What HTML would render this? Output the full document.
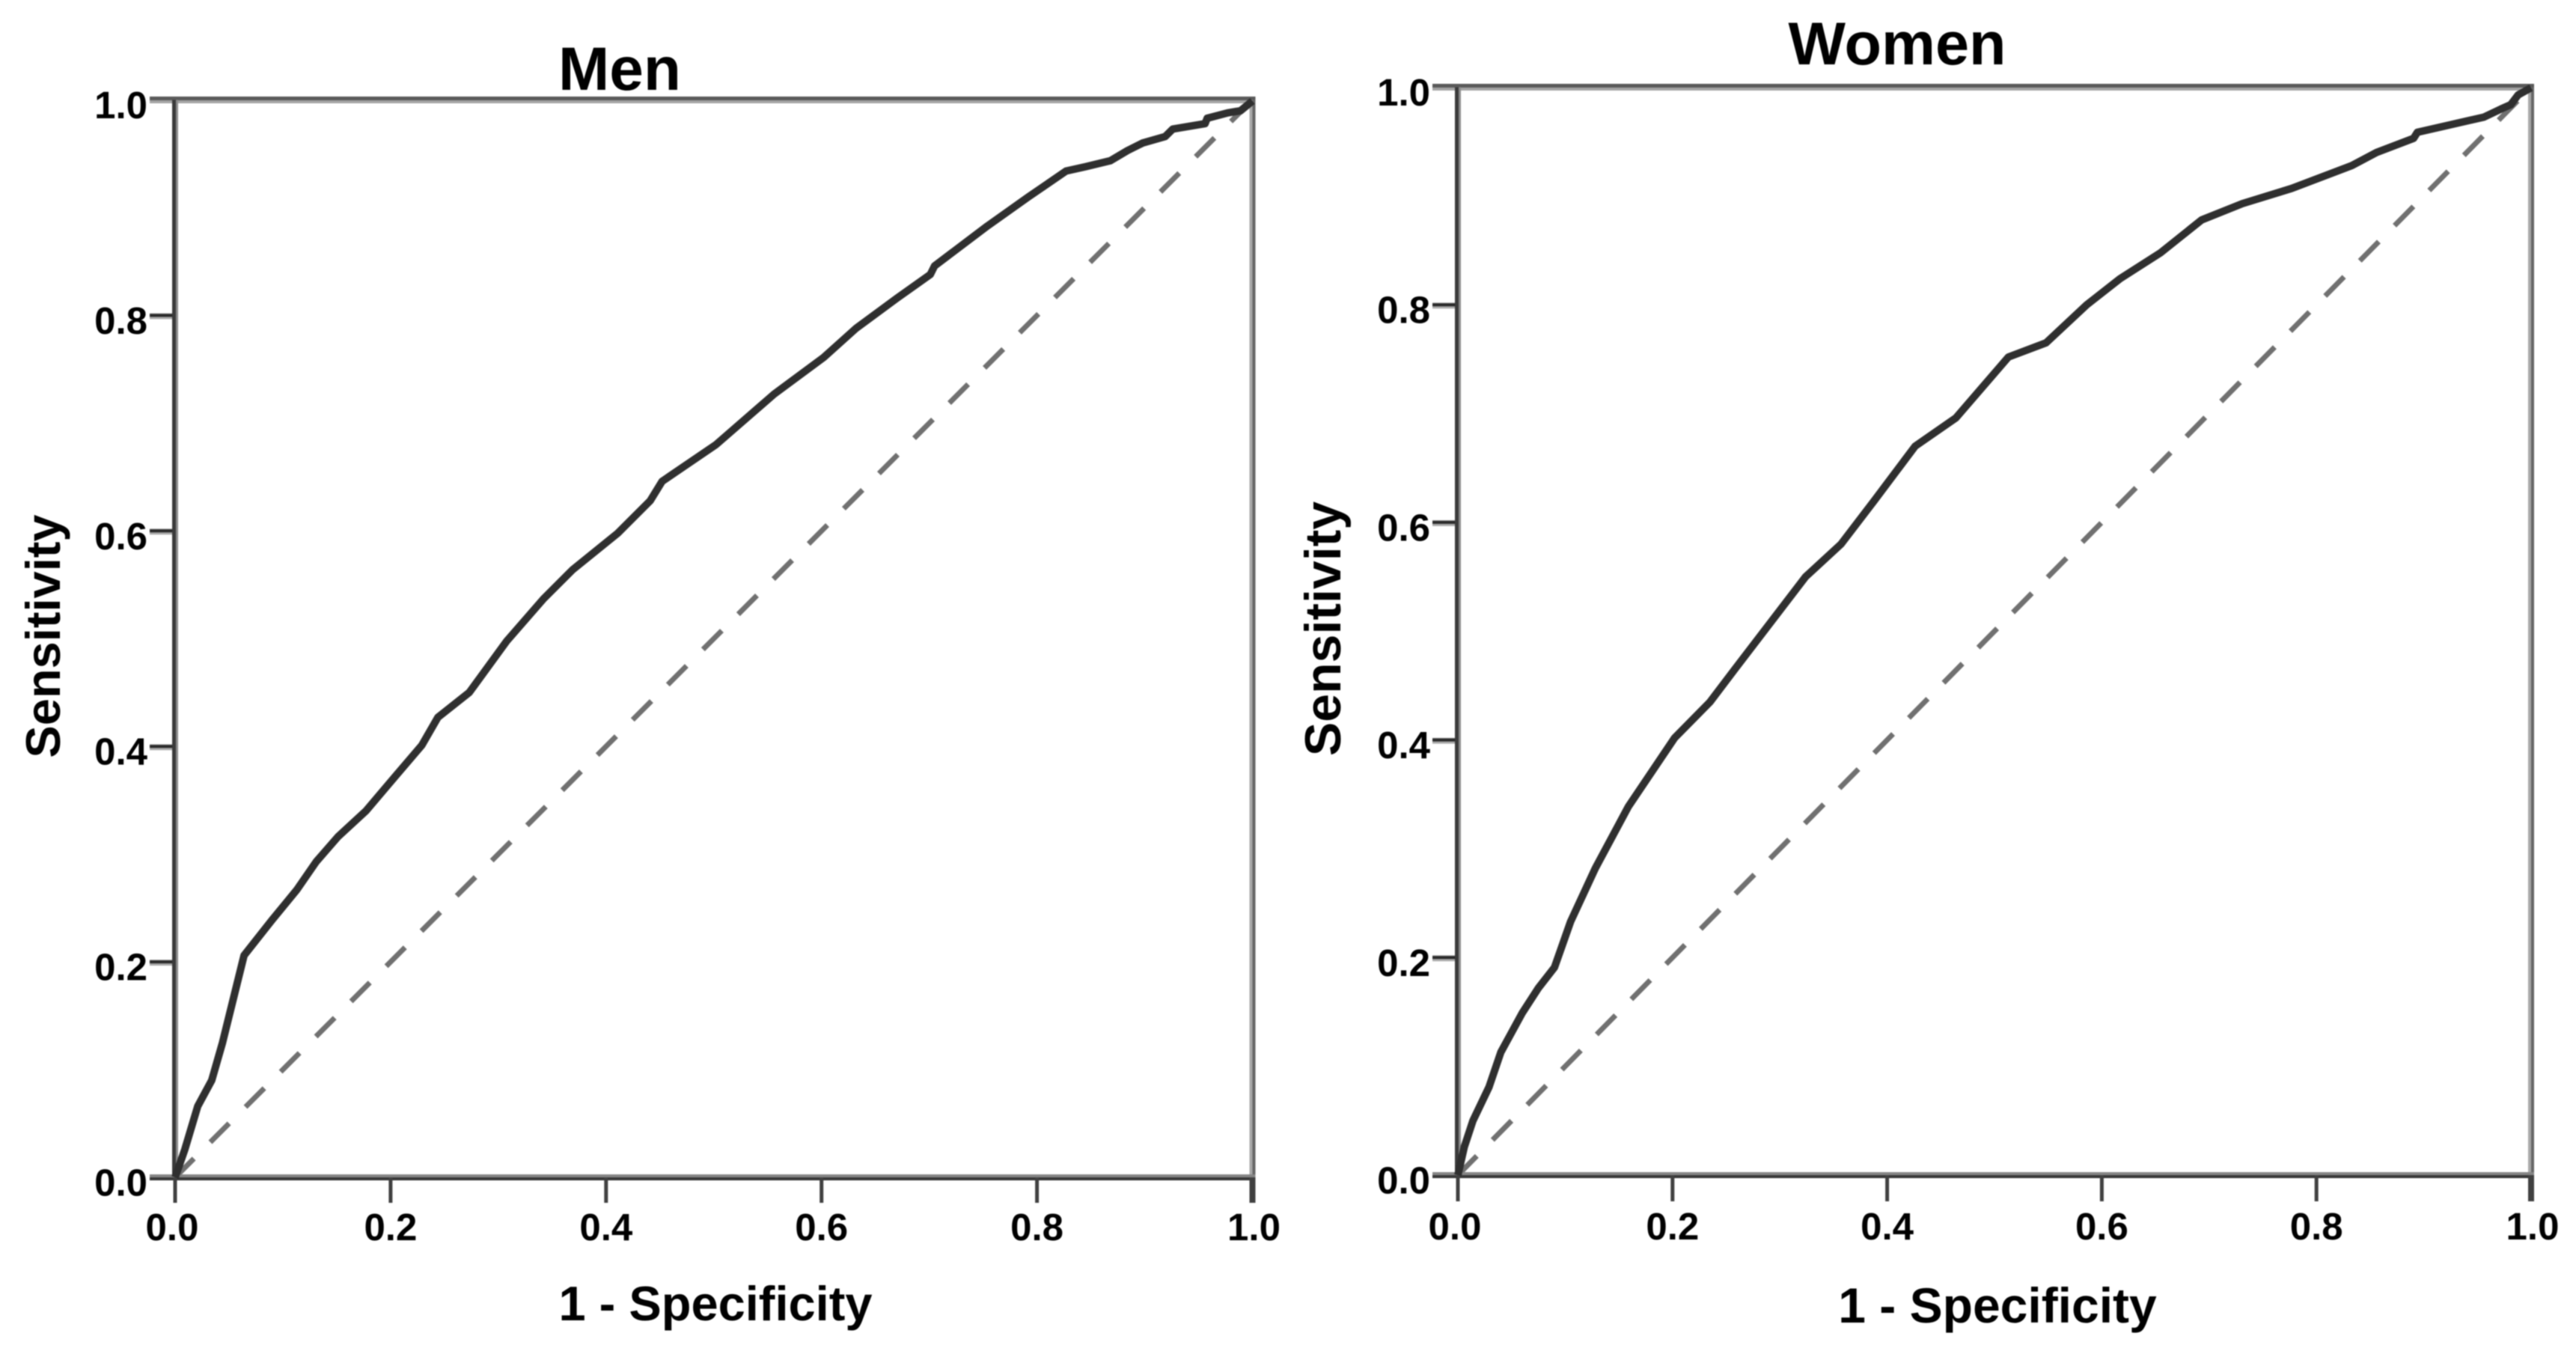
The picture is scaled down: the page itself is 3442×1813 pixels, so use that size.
<!DOCTYPE html>
<html lang="en">
<head>
<meta charset="utf-8">
<title>ROC curves for men and women</title>
<style>
html,body{margin:0;padding:0;background:#fff;}
body{width:3442px;height:1813px;overflow:hidden;}
svg{display:block;filter:blur(0.9px);}
text{font-family:"Liberation Sans",Arial,sans-serif;font-weight:bold;fill:#000;}
</style>
</head>
<body>
<svg id="chart" xmlns="http://www.w3.org/2000/svg" width="3442" height="1813" viewBox="0 0 3442 1813">
  <rect x="0" y="0" width="3442" height="1813" fill="#fff"/>
  <text x="828" y="120" font-size="82" text-anchor="middle">Men</text>
  <text x="2535" y="86" font-size="81" text-anchor="middle">Women</text>
  <text x="956" y="1764" font-size="65" text-anchor="middle">1 - Specificity</text>
  <text x="2669" y="1767" font-size="66" text-anchor="middle">1 - Specificity</text>
  <text transform="translate(80 850) rotate(-90)" font-size="65" text-anchor="middle">Sensitivity</text>
  <text transform="translate(1791 840) rotate(-90)" font-size="68" text-anchor="middle">Sensitivity</text>
  <g id="men-panel"></g>
  <g id="women-panel"></g>
</svg>
<script>
const xTickValues = [0, 0.2, 0.4, 0.6, 0.8, 1];
const yTickValues = [0, 0.2, 0.4, 0.6, 0.8, 1];
const menFpr = [0,.009,.021,.034,.044,.064,.090,.113,.131,.151,.177,.205,.229,.244,.273,.308,.342,.369,.411,.441,.452,.502,.556,.602,.632,.670,.701,.705,.754,.792,.827,.845,.868,.884,.898,.919,.926,.956,.958,.977,.989,1];
const menTpr = [0,.026,.066,.090,.125,.206,.239,.267,.293,.316,.340,.373,.401,.427,.450,.498,.537,.564,.598,.628,.646,.680,.727,.761,.788,.816,.838,.846,.883,.910,.934,.938,.9435,.953,.960,.966,.973,.978,.983,.988,.990,.999];
const womenFpr = [0,.006,.014,.029,.040,.060,.075,.090,.105,.128,.159,.202,.235,.258,.324,.357,.388,.426,.464,.513,.548,.586,.617,.655,.693,.731,.777,.833,.856,.8905,.894,.925,.956,.972,.981,.988,1];
const womenTpr = [0,.026,.050,.081,.113,.149,.172,.191,.233,.282,.339,.402,.435,.465,.550,.580,.620,.670,.696,.752,.765,.800,.824,.848,.878,.893,.907,.928,.940,.953,.9585,.9655,.9725,.980,.984,.993,.9995];
const referenceLine = [0, 1];

const SVG_NS = 'http://www.w3.org/2000/svg';

function makeLine(parent, x1, y1, x2, y2, color, width) {
  const el = document.createElementNS(SVG_NS, 'line');
  el.setAttribute('x1', x1);
  el.setAttribute('y1', y1);
  el.setAttribute('x2', x2);
  el.setAttribute('y2', y2);
  el.setAttribute('stroke', color);
  el.setAttribute('stroke-width', width);
  parent.appendChild(el);
  return el;
}

function makeLabel(parent, x, y, anchor, str) {
  const el = document.createElementNS(SVG_NS, 'text');
  el.setAttribute('x', x);
  el.setAttribute('y', y);
  el.setAttribute('font-size', 51);
  el.setAttribute('text-anchor', anchor);
  el.textContent = str;
  parent.appendChild(el);
  return el;
}

function drawPanel(id, box, fpr, tpr) {
  const g = document.getElementById(id);
  const sx = v => box.left + v * (box.right - box.left);
  const sy = v => box.bottom - v * (box.bottom - box.top);
  const fmt = v => v.toFixed(1);

  // reference diagonal
  const diag = makeLine(g, sx(referenceLine[0]), sy(referenceLine[0]), sx(referenceLine[1]), sy(referenceLine[1]), '#707070', 7);
  diag.setAttribute('stroke-dasharray', box.dash);
  
  

  // frame: dark core with a lighter edge, as in the source raster
  const topLight = makeLine(g, box.left - 34, box.top, box.right + 4, box.top, '#a4a4a4', 9);
  
  
  const topDark = makeLine(g, box.left - 34, box.top - 2, box.right + 4, box.top - 2, '#5a5a5a', 5);
  
  
  const rightLight = makeLine(g, box.right, box.top, box.right, box.bottom, '#a8a8a8', 8);
  
  
  const rightDark = makeLine(g, box.right + 2, box.top, box.right + 2, box.bottom, '#666', 4);
  
  
  const leftLight = makeLine(g, box.left, box.top, box.left, box.bottom, '#8c8c8c', 8);
  
  
  const leftDark = makeLine(g, box.left - 1.5, box.top, box.left - 1.5, box.bottom, '#3a3a3a', 5);
  
  
  const bottomLight = makeLine(g, box.left - 34, box.bottom, box.right + 4, box.bottom, '#858585', 8);
  
  
  const bottomDark = makeLine(g, box.left - 34, box.bottom + 2, box.right + 4, box.bottom + 2, '#383838', 4);
  
  

  // y ticks
  yTickValues.forEach(v => {
    if (v > 0 && v < 1) {
      const shade = makeLine(g, box.left - 34, sy(v) + 1, box.left - 4, sy(v) + 1, '#aaa', 8);
      
      
      const tick = makeLine(g, box.left - 34, sy(v), box.left - 4, sy(v), '#2a2a2a', 4);
      
      
    }
    const label = makeLabel(g, box.yLabelRight, sy(v) + 24.5, 'end', fmt(v));
    
    
  });

  // x ticks
  xTickValues.forEach(v => {
    const tick = makeLine(g, sx(v), box.bottom, sx(v), box.tickEnd, '#404040', v === 1 ? 8 : 5);
    
    
    const shift = v === 0 ? -4 : (v === 1 ? 2 : 0);
    const label = makeLabel(g, sx(v) + shift, box.xLabelBase, 'middle', fmt(v));
    
    
  });

  // ROC curve
  const curve = document.createElementNS(SVG_NS, 'path');
  curve.setAttribute('d', fpr.map((v, i) => (i ? 'L' : 'M') + sx(v).toFixed(1) + ' ' + sy(tpr[i]).toFixed(1)).join(' '));
  curve.setAttribute('fill', 'none');
  curve.setAttribute('stroke', '#2f2f2f');
  curve.setAttribute('stroke-width', 10);
  curve.setAttribute('stroke-linejoin', 'round');
  curve.setAttribute('stroke-linecap', 'butt');
  
  
  g.appendChild(curve);
}

drawPanel('men-panel', {left: 234, right: 1673.5, top: 133.5, bottom: 1573, yLabelRight: 197, xLabelBase: 1657, tickEnd: 1607, dash: '35.5 31'}, menFpr, menTpr);
drawPanel('women-panel', {left: 1948, right: 3382, top: 116.5, bottom: 1570, yLabelRight: 1911, xLabelBase: 1656, tickEnd: 1605, dash: '36 30'}, womenFpr, womenTpr);
</script>
</body>
</html>
